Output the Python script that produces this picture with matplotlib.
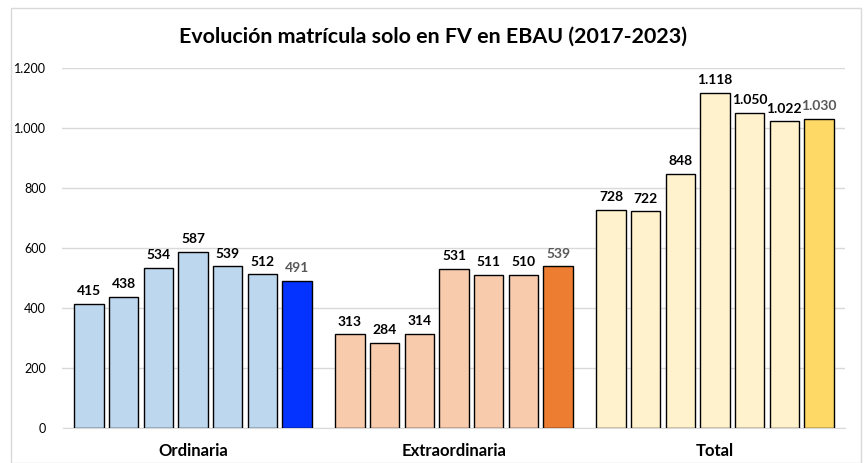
import numpy as np
import matplotlib.pyplot as plt
from matplotlib.patches import Rectangle

plt.rcParams['font.family'] = ['Lato', 'DejaVu Sans']

# Data
groups = ['Ordinaria', 'Extraordinaria', 'Total']
ordinaria = [415, 438, 534, 587, 539, 512, 491]
extraordinaria = [313, 284, 314, 531, 511, 510, 539]
total = [728, 722, 848, 1118, 1050, 1022, 1030]
series = [ordinaria, extraordinaria, total]

light_colors = ['#BDD7EE', '#F8CBAD', '#FFF2CC']
last_colors = ['#0433FF', '#ED7D31', '#FFD966']

def fmt(v):
    return f'{v:,}'.replace(',', '.')

fig = plt.figure(figsize=(8.66, 4.63), dpi=100)
fig.patches.append(Rectangle((11 / 866, 0), 850 / 866, 1 - 8 / 463, transform=fig.transFigure,
                             fill=False, edgecolor='#D9D9D9', linewidth=1))
ax = fig.add_axes([62.5 / 866, 35 / 463, 783 / 866, 360 / 463])

n = 7
slot = 0.93 / n
width = slot * 0.84
for g, vals in enumerate(series):
    offsets = (np.arange(n) - (n - 1) / 2) * slot
    colors = [light_colors[g]] * (n - 1) + [last_colors[g]]
    x = g + offsets
    ax.bar(x, vals, width=width, color=colors, edgecolor='black', linewidth=1.0, zorder=3)
    for i, (xi, v) in enumerate(zip(x, vals)):
        last = i == n - 1
        ax.text(xi, v + 22, fmt(v), ha='center', va='bottom', fontsize=10,
                fontweight='bold', color='#595959' if last else 'black')

ax.set_xlim(-0.5, 2.5)
ax.set_ylim(0, 1200)
ax.set_yticks(np.arange(0, 1201, 200))
ax.set_yticklabels([fmt(v) for v in range(0, 1201, 200)], fontsize=9)
ax.set_xticks(range(3))
ax.set_xticklabels(groups, fontsize=12, fontweight='bold')
ax.tick_params(axis='both', length=0)
ax.tick_params(axis='x', pad=11)
ax.tick_params(axis='y', pad=12)
ax.grid(axis='y', color='#D9D9D9', linewidth=1, zorder=0)
for s in ['top', 'right', 'left']:
    ax.spines[s].set_visible(False)
ax.spines['bottom'].set_color('#D9D9D9')

fig.text(0.5, 1 - 37 / 463, 'Evolución matrícula solo en FV en EBAU (2017-2023)',
         ha='center', va='center', fontsize=15.4, fontweight='bold')

plt.savefig('out.png', dpi=100)
